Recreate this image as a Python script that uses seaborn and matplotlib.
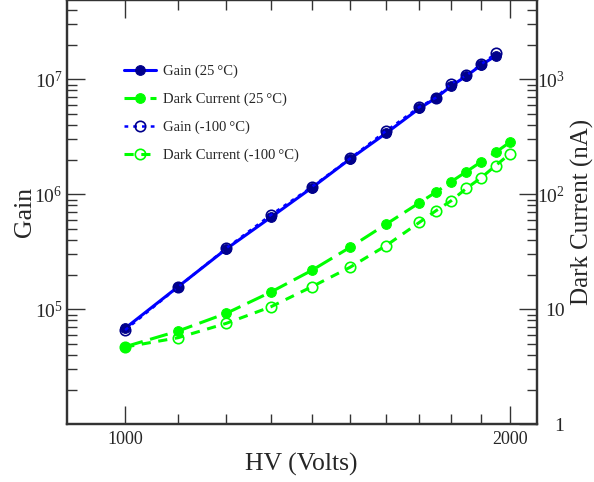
import numpy as np
import pandas as pd
import seaborn as sns
import matplotlib
matplotlib.use("Agg")
import matplotlib.pyplot as plt
from matplotlib.ticker import FixedLocator, LogLocator, FuncFormatter, NullFormatter

# veriler
hv_gain = [1000, 1100, 1200, 1300, 1400, 1500, 1600, 1700, 1750, 1800, 1850, 1900, 1950]
gain_25 = [6.84e4, 1.57e5, 3.35e5, 6.3e5, 1.14e6, 2.03e6, 3.39e6, 5.6e6, 6.84e6, 8.75e6, 1.07e7, 1.33e7, 1.6e7]
gain_m100 = [6.6e4, 1.56e5, 3.4e5, 6.6e5, 1.16e6, 2.05e6, 3.55e6, 5.75e6, 6.9e6, 9.2e6, 1.08e7, 1.35e7, 1.68e7]

hv_dark = [1000, 1100, 1200, 1300, 1400, 1500, 1600, 1700, 1750, 1800, 1850, 1900, 1950, 2000]
dark_25 = [4.73, 6.47, 9.23, 14.1, 21.8, 34.6, 54.8, 84.5, 104, 128.8, 157.4, 192, 231.7, 283]
dark_m100 = [4.7, 5.66, 7.55, 10.5, 15.7, 23.2, 35.7, 57.1, 71.6, 87.9, 112.7, 139.4, 177.5, 224]

x_ticks = [1000, 2000]
x_minor = [1100, 1200, 1300, 1400, 1500, 1600, 1700, 1800, 1900]

sns.set_style("ticks")
plt.rcParams['font.family'] = ['Liberation Serif', 'DejaVu Serif']
plt.rcParams['mathtext.fontset'] = 'custom'
plt.rcParams['mathtext.rm'] = 'Liberation Serif'
plt.rcParams['mathtext.it'] = 'Liberation Serif:italic'

fig = plt.figure(figsize=(5.94, 4.82), dpi=100)
ax = fig.add_axes([0.1123, 0.1197, 0.7912, 0.8803])
ax2 = ax.twinx()

blue = "#0000ff"
navy = "#00008b"
lime = "#00ff00"

sns.lineplot(x=hv_gain, y=gain_25, ax=ax, color=blue, lw=2.2, marker="o", ms=7,
             mfc=navy, mec=navy, label="Gain (25\u2009°C)")
sns.lineplot(x=hv_gain, y=gain_m100, ax=ax, color=blue, lw=1.8, linestyle=(0, (1.5, 2)),
             marker="o", ms=7.5, mfc="none", mec=navy, mew=1.2, label="Gain (-100\u2009°C)")
sns.lineplot(x=hv_dark, y=dark_25, ax=ax2, color=lime, lw=2.2, linestyle=(0, (6, 2.5)),
             marker="o", ms=7, mfc=lime, mec=lime, label="Dark Current (25\u2009°C)")
sns.lineplot(x=hv_dark, y=dark_m100, ax=ax2, color=lime, lw=2.2, linestyle=(0, (3, 2.5)),
             marker="o", ms=7.5, mfc="none", mec=lime, mew=1.2, label="Dark Current (-100\u2009°C)")

for a in (ax, ax2):
    a.set_xscale("log")
    a.set_yscale("log")
    a.set_xlim(900, 2100)

ax.set_ylim(1e4, 10 ** 7.69)
ax2.set_ylim(1, 10 ** 3.69)

ax.xaxis.set_major_locator(FixedLocator(x_ticks))
ax.xaxis.set_minor_locator(FixedLocator(x_minor))
ax.xaxis.set_major_formatter(FuncFormatter(lambda v, p: "%d" % v))
ax.xaxis.set_minor_formatter(NullFormatter())

ax.yaxis.set_major_locator(FixedLocator([1e5, 1e6, 1e7]))
ax.yaxis.set_minor_locator(LogLocator(base=10, subs=np.arange(2, 10)))
ax.yaxis.set_major_formatter(FuncFormatter(lambda v, p: r"$10^{%d}$" % round(np.log10(v))))
ax.yaxis.set_minor_formatter(NullFormatter())

def dark_fmt(v, p):
    if v < 5:
        return "1"
    if v < 50:
        return "10"
    return r"$10^{%d}$" % round(np.log10(v))

ax2.yaxis.set_major_locator(FixedLocator([1, 10, 100, 1000]))
ax2.yaxis.set_minor_locator(LogLocator(base=10, subs=np.arange(2, 10)))
ax2.yaxis.set_major_formatter(FuncFormatter(dark_fmt))
ax2.yaxis.set_minor_formatter(NullFormatter())

ax.tick_params(axis="x", which="both", direction="in", top=True, labelsize=13, pad=5)
ax.tick_params(axis="y", which="both", direction="in", labelsize=14, pad=3)
ax2.tick_params(axis="y", which="both", direction="in", labelsize=14, pad=20)
for t in ax2.get_yticklabels():
    t.set_horizontalalignment("right")
for a in (ax, ax2):
    a.tick_params(which="major", length=13, width=1.0, color="#333333")
    a.tick_params(which="minor", length=7, width=1.0, color="#333333")
    for s in a.spines.values():
        s.set_linewidth(1.6)
        s.set_color("#333333")

ax.set_xlabel("HV (Volts)", fontsize=18.5, labelpad=3)
ax.set_ylabel("Gain", fontsize=18.5, labelpad=-1)
ax2.set_ylabel("Dark Current (nA)", fontsize=18, labelpad=5)

h1, l1 = ax.get_legend_handles_labels()
h2, l2 = ax2.get_legend_handles_labels()
ax.get_legend().remove()
ax2.get_legend().remove()
handles = [h1[0], h2[0], h1[1], h2[1]]
labels = [l1[0], l2[0], l1[1], l2[1]]
ax2.legend(handles, labels, loc="upper left", bbox_to_anchor=(0.094, 0.879), frameon=False,
           fontsize=10.5, handlelength=2.2, handletextpad=0.5, labelspacing=1.0)

fig.savefig("out.png", dpi=100)
